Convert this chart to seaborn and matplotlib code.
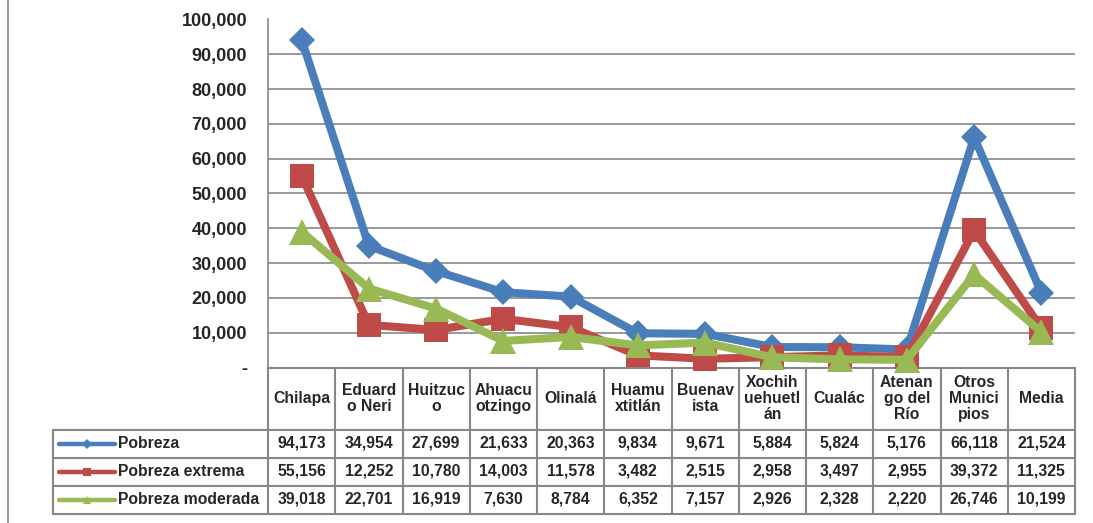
import numpy as np
import pandas as pd
import matplotlib
matplotlib.use('Agg')
import matplotlib.pyplot as plt
from matplotlib.lines import Line2D
from matplotlib.ticker import FuncFormatter
import seaborn as sns

# datos
municipios = ['Chilapa', 'Eduardo Neri', 'Huitzuco', 'Ahuacuotzingo', 'Olinalá', 'Huamuxtitlán',
              'Buenavista', 'Xochihuehuetlán', 'Cualác', 'Atenango del Río', 'Otros Municipios', 'Media']
etiquetas = ['Chilapa', 'Eduard\no Neri', 'Huitzuc\no', 'Ahuacu\notzingo', 'Olinalá', 'Huamu\nxtitlán',
             'Buenav\nista', 'Xochih\nuehuetl\nán', 'Cualác', 'Atenan\ngo del\nRío', 'Otros\nMunici\npios', 'Media']
pobreza = [94173, 34954, 27699, 21633, 20363, 9834, 9671, 5884, 5824, 5176, 66118, 21524]
pobreza_ext = [55156, 12252, 10780, 14003, 11578, 3482, 2515, 2958, 3497, 2955, 39372, 11325]
pobreza_mod = [39018, 22701, 16919, 7630, 8784, 6352, 7157, 2926, 2328, 2220, 26746, 10199]
series = ['Pobreza', 'Pobreza extrema', 'Pobreza moderada']
yticks = np.arange(0, 100001, 10000)

pos = np.arange(len(municipios))
df = pd.DataFrame({'pos': np.tile(pos, 3),
                   'valor': pobreza + pobreza_ext + pobreza_mod,
                   'serie': np.repeat(series, len(municipios))})

colores = {'Pobreza': '#4A7EBB', 'Pobreza extrema': '#BE4B48', 'Pobreza moderada': '#98B954'}
marcas = {'Pobreza': ('D', 13.5), 'Pobreza extrema': ('s', 17), 'Pobreza moderada': ('^', 19)}

sns.set_style('white')
plt.rcParams['font.family'] = ['Liberation Sans', 'DejaVu Sans']
plt.rcParams['font.weight'] = 'bold'

W, H = 1093, 523
fig = plt.figure(figsize=(W / 100, H / 100), dpi=100)

# pixel layout
x0, x1 = 268, 1075
y_top, y_zero = 19.5, 367.5
col_w = (x1 - x0) / len(municipios)
leg_x0 = 53
hdr_bot = 429.5
row_h = 28
tab_bot = hdr_bot + 3 * row_h
gris = '#878787'

ax = fig.add_axes([x0 / W, 1 - y_zero / H, (x1 - x0) / W, (y_zero - y_top) / H])
for i, s in enumerate(series):
    d = df[df['serie'] == s]
    m, ms = marcas[s]
    sns.lineplot(data=d, x='pos', y='valor', ax=ax, color=colores[s], lw=5.8,
                 marker=m, markersize=ms, markeredgewidth=0, clip_on=False,
                 zorder=5 + i, legend=False)

ax.set_xlim(-0.5, len(municipios) - 0.5)
ax.set_ylim(0, 100000)
ax.set_yticks(yticks)
ax.yaxis.set_major_formatter(FuncFormatter(lambda v, p: '-' if v == 0 else f'{int(v):,}'))
ax.tick_params(axis='y', length=0, pad=15, labelsize=13)
ax.set_xticks([])
ax.set_xlabel('')
ax.set_ylabel('')
ax.grid(axis='y', color=gris, lw=1.2)
for sp in ['top', 'right']:
    ax.spines[sp].set_visible(False)
ax.spines['left'].set_color(gris)
ax.spines['left'].set_linewidth(1.2)
ax.spines['bottom'].set_color(gris)
ax.spines['bottom'].set_linewidth(1.5)
for lab in ax.get_yticklabels():
    lab.set_fontweight('bold')

# tabla de datos (coordenadas: x en unidades de categoria, y en pixeles)
tx0 = -0.5 - (x0 - leg_x0) / col_w
tab = fig.add_axes([leg_x0 / W, 1 - tab_bot / H, (x1 - leg_x0) / W, (tab_bot - y_zero) / H])
tab.set_xlim(tx0, len(municipios) - 0.5)
tab.set_ylim(tab_bot, y_zero)
tab.axis('off')

lk = dict(color=gris, lw=1.5, clip_on=False, zorder=1)
n = len(municipios)
# verticales
for i in range(n + 1):
    tab.plot([i - 0.5, i - 0.5], [y_zero, tab_bot], **lk)
tab.plot([tx0, tx0], [hdr_bot, tab_bot], **lk)
# horizontales
for k in range(4):
    yy = hdr_bot + k * row_h
    tab.plot([tx0, n - 0.5], [yy, yy], **lk)

for i, lab in enumerate(etiquetas):
    tab.text(i, (y_zero + hdr_bot) / 2, lab, ha='center', va='center', fontsize=11.3,
             fontweight='bold', linespacing=1.1, zorder=2)

valores = [pobreza, pobreza_ext, pobreza_mod]
for k, s in enumerate(series):
    yc = hdr_bot + (k + 0.5) * row_h
    for i, v in enumerate(valores[k]):
        tab.text(i, yc, f'{v:,}', ha='center', va='center', fontsize=11.3, fontweight='bold')
    # clave de leyenda
    lx0 = tx0 + 6 / col_w
    lx1 = tx0 + 62 / col_w
    m, ms = marcas[s]
    tab.plot([lx0, lx1], [yc, yc], color=colores[s], lw=3.2, solid_capstyle='round')
    tab.plot([(lx0 + lx1) / 2], [yc], marker=m, markersize=ms * 0.34, color=colores[s],
             markeredgewidth=0)
    tab.text(tx0 + 65 / col_w, yc, s, ha='left', va='center', fontsize=11.3, fontweight='bold')

# borde izquierdo del grafico
fig.add_artist(Line2D([7.5 / W, 7.5 / W], [0, 1], color=gris, lw=1.2))

fig.savefig('out.png', dpi=100)
